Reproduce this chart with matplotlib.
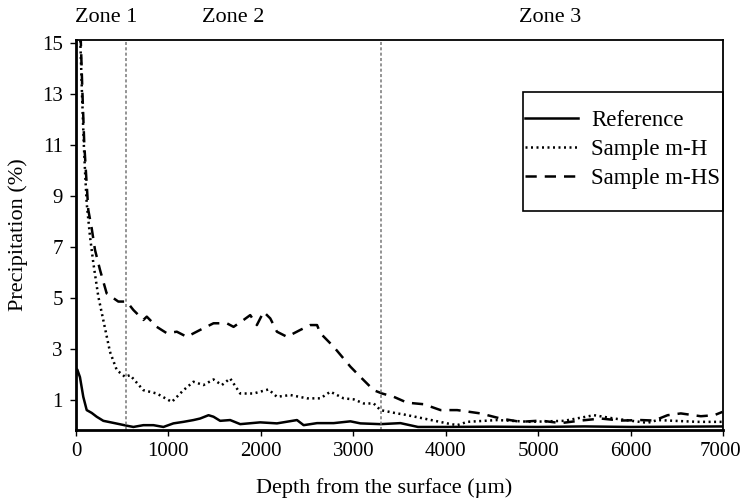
import matplotlib.pyplot as plt
import matplotlib.transforms as mtransforms
from matplotlib.patches import Rectangle

plt.rcParams['font.family'] = ['Liberation Serif', 'DejaVu Serif']

# Reference (solid)
ref_x = [0, 14, 43, 79, 116, 170, 224, 296, 404, 549, 621, 729, 838, 946, 1054, 1163,
         1271, 1343, 1434, 1488, 1560, 1668, 1777, 1993, 2174, 2391, 2463, 2608, 2788,
         2969, 3077, 3294, 3510, 3700, 4000, 4500, 5000, 5500, 6000, 6500, 7000]
ref_y = [1.98, 2.2, 1.9, 1.13, 0.61, 0.5, 0.35, 0.19, 0.11, 0.0, -0.05, 0.02, 0.02, -0.05, 0.09, 0.15,
         0.22, 0.28, 0.41, 0.35, 0.19, 0.22, 0.06, 0.13, 0.09, 0.22, 0.02, 0.1, 0.1,
         0.17, 0.09, 0.06, 0.1, -0.05, -0.05, -0.04, -0.05, -0.03, -0.05, -0.04, -0.03]

# Sample m-H (dotted)
mh_x = [45, 65, 85, 100, 116, 152, 188, 242, 368, 441, 531, 585, 729, 874, 1037, 1163,
        1271, 1379, 1488, 1578, 1668, 1777, 1921, 2083, 2174, 2319, 2499, 2644, 2752,
        2896, 3005, 3113, 3221, 3294, 3474, 3546, 3763, 4016, 4124, 4233, 4558, 4919,
        5280, 5605, 5821, 6183, 6291, 6724, 6995]
mh_y = [15.3, 13.0, 11.0, 9.8, 8.71, 7.4, 6.36, 5.05, 2.89, 2.18, 1.91, 1.98, 1.39, 1.26, 0.93, 1.39,
        1.72, 1.59, 1.81, 1.59, 1.85, 1.26, 1.26, 1.42, 1.13, 1.2, 1.07, 1.07, 1.33,
        1.07, 1.03, 0.87, 0.87, 0.61, 0.48, 0.44, 0.28, 0.09, 0.02, 0.15, 0.22, 0.15,
        0.19, 0.41, 0.28, 0.11, 0.22, 0.15, 0.15]

# Sample m-HS (dashed)
mhs_x = [50, 70, 90, 110, 133, 170, 206, 260, 332, 458, 549, 621, 729, 766, 874, 983,
         1091, 1199, 1343, 1488, 1632, 1705, 1813, 1885, 1957, 2030, 2102, 2174, 2283,
         2427, 2535, 2608, 2644, 2788, 2969, 3077, 3221, 3312, 3438, 3583, 3763, 3944,
         4124, 4377, 4594, 4810, 5027, 5244, 5460, 5677, 5893, 6110, 6255, 6400, 6544,
         6760, 6905, 6995]
mhs_y = [15.3, 13.0, 11.0, 9.8, 8.45, 7.73, 6.88, 6.1, 5.18, 4.86, 4.86, 4.53, 4.14, 4.27, 3.87, 3.62,
         3.68, 3.48, 3.75, 4.01, 4.01, 3.87, 4.14, 4.33, 3.94, 4.46, 4.2, 3.68, 3.48,
         3.75, 3.94, 3.94, 3.62, 3.09, 2.31, 1.91, 1.39, 1.26, 1.13, 0.9, 0.84, 0.61,
         0.61, 0.48, 0.28, 0.15, 0.2, 0.1, 0.2, 0.28, 0.2, 0.22, 0.2, 0.41, 0.48,
         0.37, 0.41, 0.54]

zone_bounds = [540, 3300]
zone_labels = ['Zone 1', 'Zone 2', 'Zone 3']
zone_label_x = [325, 1696, 5135]

fig = plt.figure(figsize=(7.42, 5.01), dpi=100)
ax = fig.add_axes([0.1024, 0.1427, 0.872, 0.7773])

ax.plot(ref_x, ref_y, color='black', lw=1.8, ls='-', label='Reference')
ax.plot(mh_x, mh_y, color='black', lw=1.8, ls=(0, (0.8, 1.4)), label='Sample m-H')
ax.plot(mhs_x, mhs_y, color='black', lw=1.8, ls=(0, (4.5, 3.2)), label='Sample m-HS')

for xb in zone_bounds:
    ax.axvline(xb, color='#777777', lw=1.1, ls=(0, (2, 1.5)))

trans = mtransforms.blended_transform_factory(ax.transData, ax.transAxes)
for lab, xl in zip(zone_labels, zone_label_x):
    ax.text(xl, 1.059, lab, transform=trans, ha='center', va='center', fontsize=16)

ax.set_xlim(0, 7000)
ax.set_ylim(-0.15, 15.1)
ax.set_xticks(range(0, 7001, 1000))
ax.set_yticks(range(1, 16, 2))
ax.tick_params(labelsize=15, direction='out', length=4, width=1, colors='black')
ax.tick_params(axis='x', pad=5)
ax.tick_params(axis='y', pad=5.5)

# keep the last x tick label inside the figure
fig.canvas.draw()
last = ax.get_xticklabels()[-1]
last.set_transform(last.get_transform() + mtransforms.ScaledTranslation(-3 / 100, 0, fig.dpi_scale_trans))

for side in ['left', 'bottom']:
    ax.spines[side].set_linewidth(2.0)
for side in ['top', 'right']:
    ax.spines[side].set_linewidth(1.3)

ax.set_xlabel('Depth from the surface (µm)', fontsize=16)
ax.set_ylabel('Precipitation (%)', fontsize=16, va='center')
ax.xaxis.set_label_coords(0.476, -0.125)
ax.yaxis.set_label_coords(-0.0896, 0.5)

# legend box drawn separately so the padding matches the original
ax.add_patch(Rectangle((0.691, 0.561), 0.309, 0.3055, transform=ax.transAxes,
                       fill=False, edgecolor='black', lw=1.2, clip_on=False, zorder=5))
leg = ax.legend(loc='upper left', bbox_to_anchor=(0.694, 0.821), fontsize=16.5,
                frameon=False, borderpad=0, labelspacing=0.36,
                handlelength=2.3, handletextpad=0.6, borderaxespad=0)

fig.savefig('out.png', dpi=100)
